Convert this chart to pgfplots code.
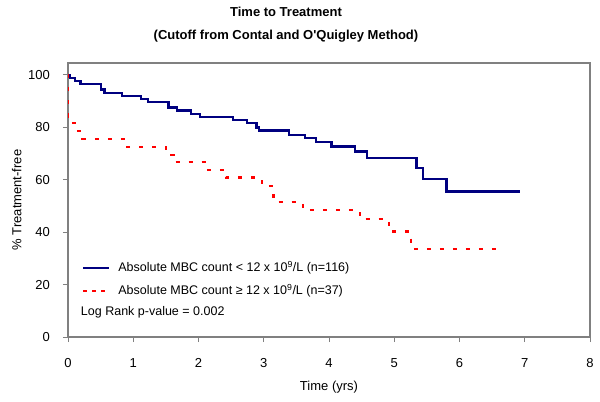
\documentclass[border=0pt]{standalone}
\usepackage{pgfplots}
\pgfplotsset{compat=1.18}
\usepackage{fontspec}
\setmainfont{Liberation Sans}
\definecolor{navyblue}{RGB}{0,0,128}
\definecolor{exred}{RGB}{255,0,0}
\definecolor{framegray}{RGB}{128,128,128}
\pgfplotstableread{
x y
0 100
0.035 98.9
0.11 97.6
0.19 96.4
0.51 94.4
0.56 93.1
0.83 91.9
1.12 90.8
1.23 89.7
1.54 87.5
1.67 86.4
1.89 85.1
2.02 83.9
2.53 82.7
2.74 81.6
2.89 79.9
2.93 78.7
3.39 77.1
3.63 75.8
3.80 74.4
4.04 72.6
4.40 70.7
4.58 68.2
5.34 64.4
5.44 60.3
5.80 55.5
6.92 55.5
}\lowtable
\pgfplotstableread{
x y
0 100
0.005 84.1
0.05 81.6
0.12 78.6
0.22 75.5
0.87 72.6
1.50 69.5
1.62 66.7
2.14 63.7
2.42 60.8
2.97 57.6
3.15 51.4
3.60 48.5
4.47 44.9
4.92 40.2
5.26 33.6
6.65 33.6
}\hightable
\begin{document}
\begin{tikzpicture}
\useasboundingbox (-68bp,-65bp) rectangle (532bp,337bp);
\begin{axis}[
  at={(0,0)}, anchor=south west,
  scale only axis, width=522bp, height=274bp,
  xmin=0, xmax=8, ymin=0, ymax=104.5,
  clip mode=individual,
  xtick={0,1,...,8}, ytick={0,20,...,100},
  xtick pos=left, ytick pos=left,
  axis line style={framegray, line width=1.1bp},
  tick style={draw=framegray, line width=0.9bp},
  tick align=outside, major tick length=5bp,
  /pgf/number format/assume math mode=true,
  tick label style={font=\fontsize{13bp}{15bp}\selectfont, text=black},
  xticklabel style={anchor=base, yshift=-25bp, inner sep=0pt},
  yticklabel style={anchor=base east, inner sep=0pt, xshift=-13bp, yshift=-4.6bp},
  every axis x label/.style={at={(axis description cs:0.5,0)}, anchor=base, yshift=-53bp},
  every axis y label/.style={at={(axis description cs:0,0.5)}, xshift=-46.5bp, rotate=90, anchor=base},
  label style={font=\fontsize{13bp}{15bp}\selectfont},
  xlabel={Time (yrs)},
  ylabel={\% Treatment-free},
  legend style={at={(axis description cs:0.0268,0.2745)}, anchor=north west,
    draw=none, fill=none, inner sep=0pt, row sep=9.4bp,
    font=\fontsize{12.5bp}{15bp}\selectfont,
    nodes={inner sep=0pt, text height=10bp, text depth=3bp},
    /tikz/every odd column/.append style={column sep=8bp}},
  legend cell align=left,
  legend image code/.code={\draw[#1] (0bp,0bp) -- (26bp,0bp);},
]
\draw[draw=framegray, line width=1.1bp] (rel axis cs:0,0) -- (rel axis cs:1,0) -- (rel axis cs:1,1) -- (rel axis cs:0,1) -- cycle;
\addplot[const plot, navyblue, line width=2.3bp, forget plot] table[x=x,y=y] {\lowtable};
\addplot[const plot, exred, line width=2.2bp, dash pattern=on 4bp off 9bp, forget plot] table[x=x,y=y] {\hightable};
\addlegendimage{navyblue, line width=2bp}
\addlegendentry{Absolute MBC count < 12 x 10\textsuperscript{9}/L (n=116)}
\addlegendimage{exred, line width=2.2bp, dash pattern=on 3.5bp off 5.5bp}
\addlegendentry{Absolute MBC count ≥ 12 x 10\textsuperscript{9}/L (n=37)}
\node[anchor=base west, inner sep=0pt, font=\fontsize{12.5bp}{15bp}\selectfont] at (axis description cs:0.0245,0) [yshift=21.7bp] {Log Rank p-value = 0.002};
\node[anchor=base, inner sep=0pt, font=\fontsize{13bp}{15bp}\selectfont\bfseries] at (axis description cs:0.4176,1) [yshift=46bp] {Time to Treatment};
\node[anchor=base, inner sep=0pt, font=\fontsize{13bp}{15bp}\selectfont\bfseries] at (axis description cs:0.4176,1) [yshift=23.5bp] {(Cutoff from Contal and O\textquotesingle Quigley Method)};
\end{axis}
\end{tikzpicture}
\end{document}
